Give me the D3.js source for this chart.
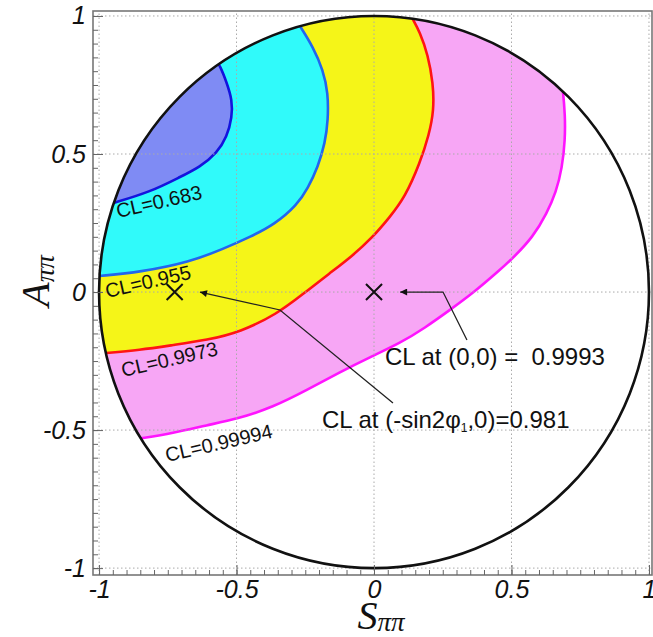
<!DOCTYPE html>
<html lang="en">
<head>
    <meta charset="utf-8">
    <title>CL contours</title>
    <script type="text/javascript" src="https://d3js.org/d3.v7.min.js"></script>
    <style>
        body { margin: 0; background: #fff; }
        .ticklabel { font-family: "Liberation Sans", Arial, sans-serif; font-style: italic; font-size: 25px; fill: #111; }
        .cllabel { font-family: "Liberation Sans", Arial, sans-serif; font-size: 20px; fill: #111; }
        .note { font-family: "Liberation Sans", Arial, sans-serif; font-size: 24px; fill: #111; }
        .title { font-family: "Liberation Serif", "Times New Roman", serif; font-style: italic; fill: #111; }
    </style>
</head>
<body>
<div id="container"></div>
<script type="text/javascript">
    const w = 653;
    const h = 637;

    // contour lines, [S, A]
    const cl683 = [[-0.95, 0.322], [-0.815, 0.362], [-0.705, 0.417], [-0.633, 0.453], [-0.571, 0.504],
        [-0.535, 0.562], [-0.516, 0.634], [-0.516, 0.696], [-0.535, 0.757], [-0.56, 0.82], [-0.575, 0.84]];
    const cl955 = [[-1.0, 0.058], [-0.851, 0.072], [-0.669, 0.109], [-0.549, 0.156], [-0.451, 0.199],
        [-0.36, 0.246], [-0.28, 0.315], [-0.24, 0.377], [-0.204, 0.453], [-0.178, 0.54], [-0.167, 0.623],
        [-0.167, 0.721], [-0.185, 0.804], [-0.222, 0.888], [-0.265, 0.957], [-0.28, 0.98]];
    const cl9973 = [[-0.985, -0.222], [-0.851, -0.21], [-0.731, -0.192], [-0.607, -0.174], [-0.487, -0.145],
        [-0.353, -0.08], [-0.258, -0.007], [-0.16, 0.069], [-0.08, 0.13], [-0.007, 0.196], [0.058, 0.272],
        [0.113, 0.344], [0.167, 0.467], [0.2, 0.569], [0.218, 0.659], [0.215, 0.757], [0.196, 0.859],
        [0.167, 0.942], [0.138, 0.993], [0.13, 1.01]];
    const cl99994 = [[-0.855, -0.531], [-0.731, -0.511], [-0.607, -0.482], [-0.498, -0.46], [-0.367, -0.417],
        [-0.244, -0.355], [-0.124, -0.29], [-0.015, -0.236], [0.095, -0.185], [0.185, -0.13], [0.276, -0.065],
        [0.36, -0.004], [0.458, 0.08], [0.505, 0.123], [0.578, 0.199], [0.629, 0.286], [0.662, 0.362],
        [0.684, 0.449], [0.695, 0.551], [0.695, 0.641], [0.687, 0.732], [0.684, 0.745]];

    const contours = [
        {pts: cl99994, fill: "#f7a6f5", line: "#ff14ff"},
        {pts: cl9973, fill: "#f5f518", line: "#ff1414"},
        {pts: cl955, fill: "#30fafa", line: "#2266ee"},
        {pts: cl683, fill: "#7f8bf4", line: "#1414dd"}
    ];

    const clLabels = ["CL=0.683", "CL=0.955", "CL=0.9973", "CL=0.99994"];
    const clLabelPos = [[-0.931, 0.268], [-0.971, -0.022], [-0.913, -0.308], [-0.753, -0.616]];

    const crossS = [-0.725, 0];
    const crossA = [0, 0];

    const majorTicks = [-1, -0.5, 0, 0.5, 1];
    const tickText = ["-1", "-0.5", "0", "0.5", "1"];

    const svg = d3.select("div#container").append("svg")
        .attr("width", w).attr("height", h)
        .attr("viewBox", "0 0 " + w + " " + h);

    const x = d3.scaleLinear().domain([-1.022, 1.011]).range([93, 652]);
    const y = d3.scaleLinear().domain([-1.025, 1.018]).range([575, 11]);

    // unit circle used as clip for the allowed region
    svg.append("clipPath").attr("id", "disk")
        .append("ellipse")
        .attr("cx", x(0)).attr("cy", y(0))
        .attr("rx", x(1) - x(0)).attr("ry", y(0) - y(1));

    const line = d3.line().x(d => x(d[0])).y(d => y(d[1])).curve(d3.curveBasis);

    const fills = svg.append("g").attr("clip-path", "url(#disk)");
    contours.forEach(function (c) {
        const first = c.pts[0], last = c.pts[c.pts.length - 1];
        const d = line(c.pts) +
            "L" + x(last[0]) + "," + y(1.6) +
            "L" + x(-1.6) + "," + y(1.6) +
            "L" + x(-1.6) + "," + y(first[1]) + "Z";
        fills.append("path").attr("d", d).attr("fill", c.fill).attr("stroke", "none");
    });
    contours.forEach(function (c) {
        fills.append("path").attr("d", line(c.pts))
            .attr("fill", "none").attr("stroke", c.line).attr("stroke-width", 2.6);
    });

    // dotted grid
    const grid = svg.append("g");
    grid.selectAll("line.gx").data(majorTicks).enter().append("line")
        .attr("x1", d => x(d)).attr("x2", d => x(d))
        .attr("y1", y.range()[0]).attr("y2", y.range()[1])
        .attr("stroke", "#aaa").attr("stroke-width", 1).attr("stroke-dasharray", "1.5,2.5");
    grid.selectAll("line.gy").data(majorTicks).enter().append("line")
        .attr("y1", d => y(d)).attr("y2", d => y(d))
        .attr("x1", x.range()[0]).attr("x2", x.range()[1])
        .attr("stroke", "#aaa").attr("stroke-width", 1).attr("stroke-dasharray", "1.5,2.5");

    // the boundary circle
    svg.append("ellipse")
        .attr("cx", x(0)).attr("cy", y(0))
        .attr("rx", x(1) - x(0)).attr("ry", y(0) - y(1))
        .attr("fill", "none").attr("stroke", "#111").attr("stroke-width", 2.6);

    // frame
    svg.append("rect")
        .attr("x", x.range()[0]).attr("y", y.range()[1])
        .attr("width", x.range()[1] - x.range()[0]).attr("height", y.range()[0] - y.range()[1])
        .attr("fill", "none").attr("stroke", "#777").attr("stroke-width", 1.6);

    // axes: minor ticks, then major ticks with labels
    const xMinor = svg.append("g").attr("transform", "translate(0," + y.range()[0] + ")")
        .call(d3.axisBottom(x).tickValues(x.ticks(40)).tickSize(-5).tickFormat(""));
    const yMinor = svg.append("g").attr("transform", "translate(" + x.range()[0] + ",0)")
        .call(d3.axisLeft(y).tickValues(y.ticks(40)).tickSize(-5).tickFormat(""));
    const xMajor = svg.append("g").attr("transform", "translate(0," + y.range()[0] + ")")
        .call(d3.axisBottom(x).tickValues(majorTicks).tickSize(-10).tickPadding(5)
            .tickFormat((d, i) => tickText[i]));
    const yMajor = svg.append("g").attr("transform", "translate(" + x.range()[0] + ",0)")
        .call(d3.axisLeft(y).tickValues(majorTicks).tickSize(-10).tickPadding(7)
            .tickFormat((d, i) => tickText[i]));
    [xMinor, yMinor, xMajor, yMajor].forEach(function (g) {
        g.select(".domain").remove();
        g.selectAll(".tick line").attr("stroke", "#666");
        g.selectAll("text").attr("class", "ticklabel").attr("fill", null)
            .attr("font-size", null).attr("font-family", null);
    });

    // CL labels on the contours
    svg.selectAll("text.cl").data(clLabels).enter().append("text")
        .attr("class", "cllabel")
        .attr("transform", (d, i) => "translate(" + x(clLabelPos[i][0]) + "," + y(clLabelPos[i][1]) + ") rotate(-13)")
        .text(d => d);

    // crosses
    svg.selectAll("path.cross").data(crossS).enter().append("path")
        .attr("transform", (d, i) => "translate(" + x(d) + "," + y(crossA[i]) + ")")
        .attr("d", d3.symbol(d3.symbolX).size(170))
        .attr("fill", "none").attr("stroke", "#111").attr("stroke-width", 2);

    // arrows with notes
    svg.append("defs").append("marker")
        .attr("id", "head").attr("viewBox", "0 0 10 10")
        .attr("refX", 10).attr("refY", 5)
        .attr("markerWidth", 11).attr("markerHeight", 7)
        .attr("markerUnits", "userSpaceOnUse")
        .attr("orient", "auto")
        .append("path").attr("d", "M0,0L10,5L0,10Z").attr("fill", "#111");

    const arrow1 = [[0.338, -0.174], [0.251, 0], [0.095, 0]];
    const arrow2 = [[0.069, -0.402], [-0.342, -0.065], [-0.633, 0]];
    const straight = d3.line().x(d => x(d[0])).y(d => y(d[1]));
    [arrow1, arrow2].forEach(function (a) {
        svg.append("path").attr("d", straight(a))
            .attr("fill", "none").attr("stroke", "#222").attr("stroke-width", 1.3)
            .attr("marker-end", "url(#head)");
    });

    svg.append("text").attr("class", "note")
        .attr("x", x(0.04)).attr("y", y(-0.264))
        .text("CL at (0,0) =\u00a0 0.9993");
    const note2 = svg.append("text").attr("class", "note")
        .attr("x", x(-0.189)).attr("y", y(-0.493));
    note2.append("tspan").text("CL at (-sin2\u03c6");
    note2.append("tspan").attr("font-size", "12px").attr("dy", 4).text("1");
    note2.append("tspan").attr("dy", -4).text(",0)=0.981");

    // axis titles
    const xt = svg.append("text").attr("class", "title")
        .attr("x", 381).attr("y", 629).attr("text-anchor", "middle");
    xt.append("tspan").attr("font-size", "40px").text("S");
    xt.append("tspan").attr("font-size", "27px").attr("dy", 2).text("\u03c0\u03c0");

    const yt = svg.append("text").attr("class", "title")
        .attr("transform", "translate(49,281) rotate(-90)").attr("text-anchor", "middle");
    yt.append("tspan").attr("font-size", "40px").text("A");
    yt.append("tspan").attr("font-size", "27px").attr("dy", 5).text("\u03c0\u03c0");
</script>
</body>
</html>
